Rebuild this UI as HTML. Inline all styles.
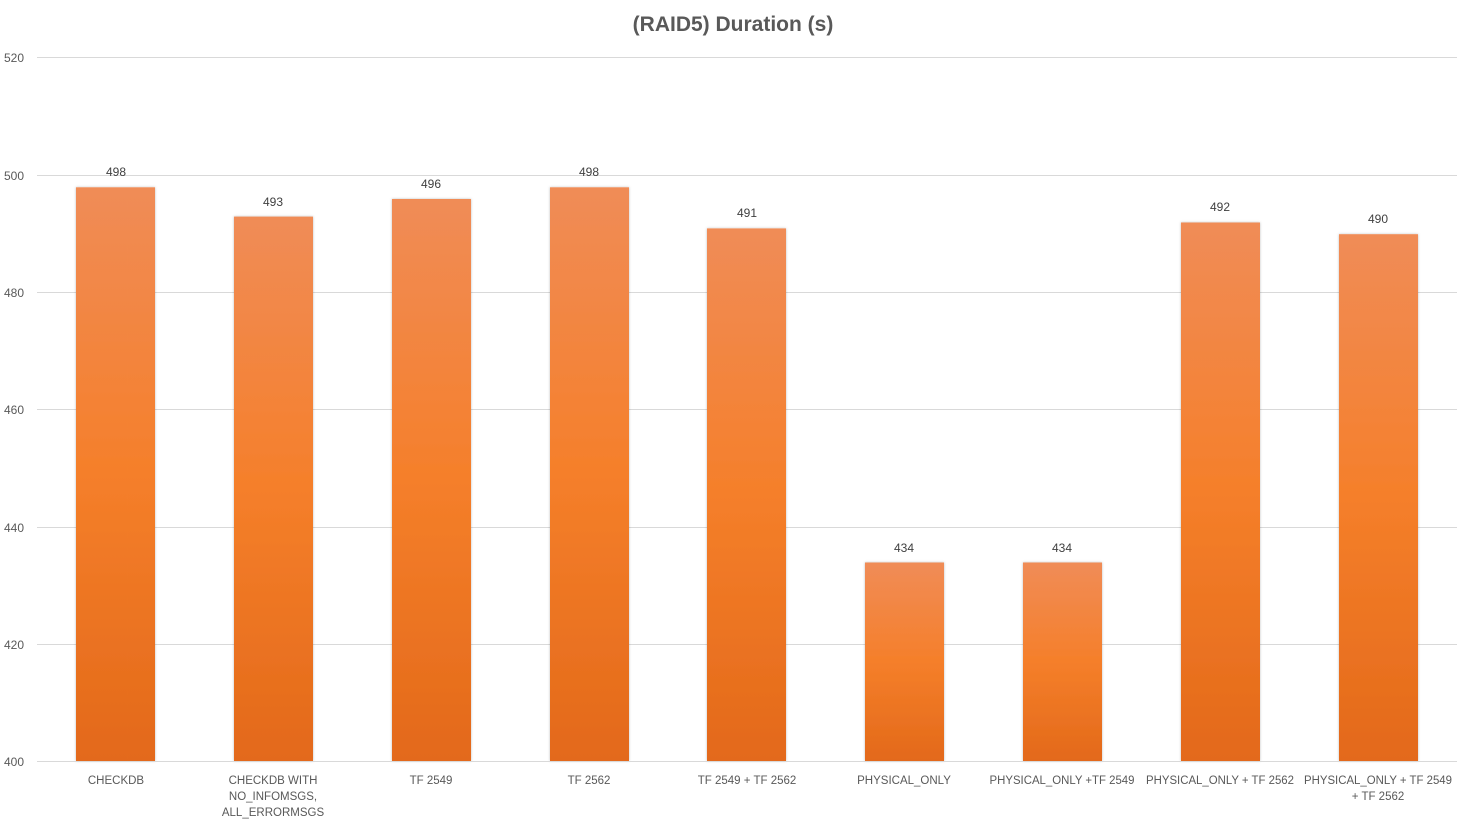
<!DOCTYPE html>
<html><head><meta charset="utf-8"><style>
html,body{margin:0;padding:0;background:#fff;}
svg{display:block;font-family:"Liberation Sans",sans-serif;}
</style></head><body>
<svg width="1461" height="823" viewBox="0 0 1461 823">
<defs>
<linearGradient id="g" x1="0" y1="0" x2="0" y2="1">
<stop offset="0" stop-color="#F08C57"/>
<stop offset="0.5" stop-color="#F57F2A"/>
<stop offset="1" stop-color="#E3691A"/>
</linearGradient>
<filter id="sh" x="-10%" y="-5%" width="120%" height="110%"><feDropShadow dx="0" dy="0" stdDeviation="1.2" flood-color="#000" flood-opacity="0.25"/></filter>
</defs>
<text x="733" y="31" text-anchor="middle" font-size="21" font-weight="bold" fill="#595959">(RAID5) Duration (s)</text>
<g stroke="#D9D9D9" stroke-width="1">
<line x1="37" x2="1457" y1="57.5" y2="57.5"/>
<line x1="37" x2="1457" y1="175.5" y2="175.5"/>
<line x1="37" x2="1457" y1="292.5" y2="292.5"/>
<line x1="37" x2="1457" y1="409.5" y2="409.5"/>
<line x1="37" x2="1457" y1="527.5" y2="527.5"/>
<line x1="37" x2="1457" y1="644.5" y2="644.5"/>
</g>
<g font-size="12" fill="#595959">
<text x="4" y="62">520</text><text x="4" y="180">500</text><text x="4" y="297">480</text>
<text x="4" y="414">460</text><text x="4" y="532">440</text><text x="4" y="649">420</text><text x="4" y="766">400</text>
</g>
<g fill="url(#g)" filter="url(#sh)">
<rect x="76" y="187.3" width="79" height="573.7"/>
<rect x="234" y="216.6" width="79" height="544.4"/>
<rect x="392" y="199" width="79" height="562"/>
<rect x="550" y="187.3" width="79" height="573.7"/>
<rect x="707" y="228.4" width="79" height="532.6"/>
<rect x="865" y="562.5" width="79" height="198.5"/>
<rect x="1023" y="562.5" width="79" height="198.5"/>
<rect x="1181" y="222.5" width="79" height="538.5"/>
<rect x="1339" y="234.2" width="79" height="526.8"/>
</g>
<line x1="37" x2="1457" y1="761.5" y2="761.5" stroke="#D9D9D9"/>
<g font-size="12" fill="#404040" text-anchor="middle">
<text x="116" y="176">498</text><text x="273" y="206">493</text><text x="431" y="188">496</text>
<text x="589" y="176">498</text><text x="747" y="217">491</text><text x="904" y="552">434</text>
<text x="1062" y="552">434</text><text x="1220" y="211">492</text><text x="1378" y="223">490</text>
</g>
<g font-size="11.5" fill="#595959" text-anchor="middle">
<text x="116" y="784">CHECKDB</text>
<text x="273" y="784">CHECKDB WITH</text><text x="273" y="800">NO_INFOMSGS,</text><text x="273" y="816">ALL_ERRORMSGS</text>
<text x="431" y="784">TF 2549</text>
<text x="589" y="784">TF 2562</text>
<text x="747" y="784">TF 2549 + TF 2562</text>
<text x="904" y="784">PHYSICAL_ONLY</text>
<text x="1062" y="784" textLength="145" lengthAdjust="spacingAndGlyphs">PHYSICAL_ONLY +TF 2549</text>
<text x="1220" y="784" textLength="148" lengthAdjust="spacingAndGlyphs">PHYSICAL_ONLY + TF 2562</text>
<text x="1378" y="784" textLength="148" lengthAdjust="spacingAndGlyphs">PHYSICAL_ONLY + TF 2549</text><text x="1378" y="800">+ TF 2562</text>
</g>
</svg>
</body></html>
